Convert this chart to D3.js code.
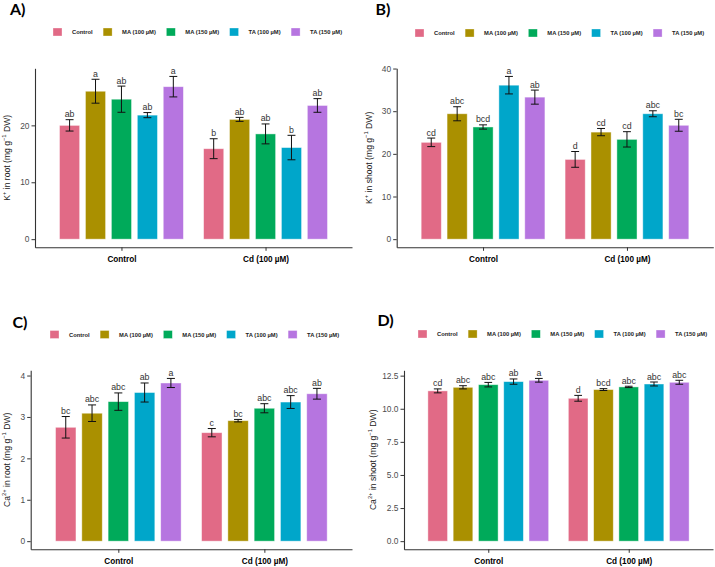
<!DOCTYPE html>
<html>
<head>
<meta charset="utf-8">
<script src="https://cdn.jsdelivr.net/npm/d3@7"></script>
<style>
  body { margin: 0; background: #fff; }
  svg { display: block; font-family: "Liberation Sans", Arial, sans-serif; }
</style>
</head>
<body>
<svg width="715" height="567"></svg>
<script>
// groups on the x axis, treatments dodged inside each group
const groups = ["Control", "Cd (100 µM)"];
const treatments = ["Control", "MA (100 µM)", "MA (150 µM)", "TA (100 µM)", "TA (150 µM)"];
const palette = ["#E16A86", "#AA9000", "#00AA5A", "#00A6CA", "#B675E0"];

// values are group-major: Control x5 treatments, then Cd x5 treatments
const kRootMean = [20.0, 26.0, 24.6, 21.8, 26.8, 15.9, 21.05, 18.5, 16.1, 23.5];
const kRootSe = [1.0, 2.1, 2.3, 0.45, 1.8, 1.75, 0.35, 1.75, 2.15, 1.2];
const kRootLetters = ["ab", "a", "ab", "ab", "a", "b", "ab", "ab", "b", "ab"];
const kRootTicks = [0, 10, 20];

const kShootMean = [22.7, 29.4, 26.3, 36.1, 33.3, 18.7, 25.1, 23.4, 29.4, 26.7];
const kShootSe = [1.0, 1.65, 0.5, 2.05, 1.65, 1.85, 0.85, 1.8, 0.7, 1.4];
const kShootLetters = ["cd", "abc", "bcd", "a", "ab", "d", "cd", "cd", "abc", "bc"];
const kShootTicks = [0, 10, 20, 30, 40];

const caRootMean = [2.75, 3.09, 3.37, 3.59, 3.82, 2.62, 2.91, 3.21, 3.36, 3.56];
const caRootSe = [0.26, 0.2, 0.21, 0.23, 0.11, 0.1, 0.03, 0.11, 0.155, 0.13];
const caRootLetters = ["bc", "abc", "abc", "ab", "a", "c", "bc", "abc", "abc", "ab"];
const caRootTicks = [0, 1, 2, 3, 4];

const caShootMean = [11.35, 11.62, 11.82, 12.05, 12.15, 10.79, 11.45, 11.65, 11.87, 12.0];
const caShootSe = [0.15, 0.12, 0.17, 0.2, 0.14, 0.22, 0.07, 0.05, 0.15, 0.15];
const caShootLetters = ["cd", "abc", "abc", "ab", "a", "d", "bcd", "abc", "abc", "abc"];
const caShootTicks = [0, 2.5, 5, 7.5, 10, 12.5];

const svg = d3.select("svg");

const panels = [
  {tag: "A)", mean: kRootMean, se: kRootSe, letters: kRootLetters, ticks: kRootTicks, fmt: d3.format("d"),
   ion: ["K", "+"], organ: "root",
   x0: 35, x1: 352, top: 68.3, bottom: 247.3, titleX: 7, tagX: 10, tagY: 14.5, legX: 53, legY: 32},
  {tag: "B)", mean: kShootMean, se: kShootSe, letters: kShootLetters, ticks: kShootTicks, fmt: d3.format("d"),
   ion: ["K", "+"], organ: "shoot",
   x0: 396.7, x1: 713.3, top: 68.3, bottom: 247.3, titleX: 368.5, tagX: 375.5, tagY: 14.5, legX: 415, legY: 33},
  {tag: "C)", mean: caRootMean, se: caRootSe, letters: caRootLetters, ticks: caRootTicks, fmt: d3.format("d"),
   ion: ["Ca", "2+"], organ: "root",
   x0: 30.7, x1: 352, top: 370.3, bottom: 549.3, titleX: 7, tagX: 12.5, tagY: 328, legX: 50, legY: 334.5},
  {tag: "D)", mean: caShootMean, se: caShootSe, letters: caShootLetters, ticks: caShootTicks, fmt: d3.format(".1f"),
   ion: ["Ca", "2+"], organ: "shoot",
   x0: 404, x1: 713, top: 370.3, bottom: 549.3, titleX: 373, tagX: 377.5, tagY: 326, legX: 418, legY: 334}
];

panels.forEach(p => drawPanel(p));

function drawPanel(p) {
  const rows = p.mean.map((m, i) => ({
    group: groups[Math.floor(i / treatments.length)],
    treat: treatments[i % treatments.length],
    mean: m, se: p.se[i], letter: p.letters[i]
  }));

  const x = d3.scalePoint().domain(groups).range([p.x0, p.x1]).padding(0.6);
  const step = x.step();
  const xi = d3.scaleBand().domain(treatments).range([-0.45 * step, 0.45 * step]);
  const barW = 0.14 * step;
  const capW = 0.055 * step;

  const ymax = d3.max(rows, d => d.mean + d.se);
  const y = d3.scaleLinear().domain([-0.05 * ymax, 1.05 * ymax]).range([p.bottom, p.top]);

  const g = svg.append("g");

  // bars
  g.selectAll("rect.bar").data(rows).join("rect")
    .attr("class", "bar")
    .attr("x", d => x(d.group) + xi(d.treat) + xi.bandwidth() / 2 - barW / 2)
    .attr("width", barW)
    .attr("y", d => y(d.mean))
    .attr("height", d => y(0) - y(d.mean))
    .attr("fill", d => palette[treatments.indexOf(d.treat)])
    .attr("stroke", "#fff")
    .attr("stroke-opacity", 0.55)
    .attr("stroke-width", 0.8);

  // error bars
  const eb = g.selectAll("g.err").data(rows).join("g")
    .attr("class", "err")
    .attr("stroke", "#111")
    .attr("stroke-width", 1);
  const cx = d => x(d.group) + xi(d.treat) + xi.bandwidth() / 2;
  eb.append("line").attr("x1", cx).attr("x2", cx)
    .attr("y1", d => y(d.mean - d.se)).attr("y2", d => y(d.mean + d.se));
  eb.append("line").attr("x1", d => cx(d) - capW / 2).attr("x2", d => cx(d) + capW / 2)
    .attr("y1", d => y(d.mean + d.se)).attr("y2", d => y(d.mean + d.se));
  eb.append("line").attr("x1", d => cx(d) - capW / 2).attr("x2", d => cx(d) + capW / 2)
    .attr("y1", d => y(d.mean - d.se)).attr("y2", d => y(d.mean - d.se));

  // significance letters
  g.selectAll("text.lett").data(rows).join("text")
    .attr("class", "lett")
    .attr("x", cx)
    .attr("y", d => y(d.mean + d.se) - 2.5)
    .attr("text-anchor", "middle")
    .attr("font-size", 8.8)
    .attr("fill", "#333")
    .text(d => d.letter);

  // axes
  const yAxis = g.append("g")
    .attr("transform", `translate(${p.x0},0)`)
    .call(d3.axisLeft(y).tickValues(p.ticks).tickFormat(p.fmt).tickSize(3.5).tickPadding(2).tickSizeOuter(0));
  yAxis.selectAll("text").attr("font-size", 8.4).attr("fill", "#4D4D4D").attr("font-family", null);
  yAxis.selectAll("line").attr("stroke", "#333");
  yAxis.select(".domain").attr("stroke", "#333").attr("stroke-width", 1.1);

  const xAxis = g.append("g")
    .attr("transform", `translate(0,${p.bottom})`)
    .call(d3.axisBottom(x).tickSize(3.5).tickPadding(5).tickSizeOuter(0));
  xAxis.selectAll("text").attr("font-size", 8.2).attr("font-weight", "bold").attr("fill", "#000").attr("font-family", null);
  xAxis.selectAll("line").attr("stroke", "#333");
  xAxis.select(".domain").attr("stroke", "#333").attr("stroke-width", 1.1);

  // y title with superscripts
  const t = g.append("text")
    .attr("transform", `translate(${p.titleX},${(p.top + p.bottom) / 2}) rotate(-90)`)
    .attr("text-anchor", "middle")
    .attr("dominant-baseline", "central")
    .attr("font-size", 8.6)
    .attr("fill", "#222");
  t.append("tspan").text(p.ion[0]);
  t.append("tspan").attr("dy", -3).attr("font-size", 5.8).text(p.ion[1]);
  t.append("tspan").attr("dy", 3).text(` in ${p.organ} (mg g`);
  t.append("tspan").attr("dy", -3).attr("font-size", 5.8).text("−1");
  t.append("tspan").attr("dy", 3).text(" DW)");

  // panel tag
  g.append("text")
    .attr("x", p.tagX).attr("y", p.tagY)
    .attr("font-family", "Lato, 'Open Sans', sans-serif")
    .attr("font-weight", "bold")
    .attr("font-size", 16)
    .attr("fill", "#000")
    .text(p.tag);

  // legend
  let lx = p.legX;
  treatments.forEach((tr, i) => {
    g.append("rect")
      .attr("x", lx).attr("y", p.legY - 4)
      .attr("width", 9).attr("height", 8)
      .attr("fill", palette[i])
      .attr("stroke", "#fff").attr("stroke-opacity", 0.55).attr("stroke-width", 0.6);
    const lt = g.append("text")
      .attr("x", lx + 19).attr("y", p.legY)
      .attr("dominant-baseline", "central")
      .attr("font-size", 5.8)
      .attr("font-weight", "bold")
      .attr("fill", "#222")
      .text(tr);
    lx = lx + 19 + lt.node().getComputedTextLength() + 10.5;
  });
}
</script>
</body>
</html>
